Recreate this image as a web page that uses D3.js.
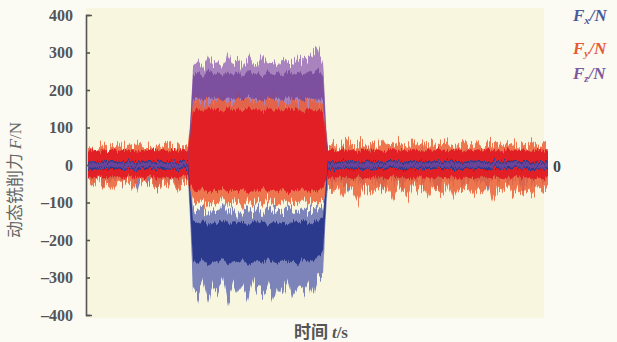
<!DOCTYPE html>
<html><head><meta charset="utf-8">
<script src="https://cdn.jsdelivr.net/npm/d3@7/dist/d3.min.js"></script>
<style>
html,body{margin:0;padding:0;background:#fbfbf4;}
svg{display:block;}
</style></head>
<body>
<svg id="c" width="617" height="342"></svg>
<script>
// sample times (s), 0..46 step 0.5
const time = d3.range(0, 46.01, 0.5);
const yTicks = [-400,-300,-200,-100,0,100,200,300,400];

// Fx envelope (outer spiky) and dense band
const fxHi = [12,18,10,25,14,20,15,30,12,22,16,11,28,14,19,13,24,15,20,12,16,
 -115,-125,-108,-130,-118,-122,-100,-128,-112,-135,-120,-110,-126,-116,-132,-105,-124,-119,-128,-111,-121,-133,-114,-125,-118,-109,-120,
 15,22,12,45,18,14,30,16,50,13,20,25,12,35,17,14,28,19,12,40,16,22,13,30,18,15,24,12,38,17,20,14,27,16,42,13,21,18,26,12,33,15,19,14,16];
const fxLo = [-25,-40,-20,-55,-30,-45,-22,-60,-28,-35,-70,-24,-50,-32,-65,-26,-42,-30,-58,-22,-35,
 -330,-350,-310,-365,-320,-340,-300,-372,-315,-345,-325,-360,-305,-335,-350,-318,-362,-328,-342,-308,-355,-322,-338,-312,-348,-300,-290,
 -30,-55,-25,-48,-70,-28,-40,-60,-22,-52,-35,-75,-26,-45,-32,-65,-24,-50,-38,-58,-27,-44,-68,-30,-36,-55,-25,-62,-40,-28,-50,-34,-72,-26,-46,-30,-57,-38,-24,-64,-32,-48,-28,-40,-30];
const fxBandHi = [10,11,9,12,10,11,9,10,12,11,10,9,11,10,12,9,11,10,11,10,9,
 -150,-158,-148,-162,-152,-155,-145,-160,-150,-157,-149,-163,-151,-154,-147,-159,-152,-156,-148,-161,-150,-155,-146,-158,-152,-150,-140,
 10,11,9,12,10,11,9,10,12,11,10,9,11,10,12,9,11,10,11,10,9,10,11,9,12,10,11,9,10,12,11,10,9,11,10,12,9,11,10,11,10,9,10,11,10];
const fxBandLo = [-10,-12,-9,-11,-10,-13,-9,-11,-10,-12,-11,-9,-12,-10,-11,-13,-10,-9,-11,-12,-10,
 -255,-262,-250,-268,-256,-260,-248,-265,-254,-259,-251,-266,-257,-253,-262,-249,-258,-263,-252,-260,-255,-267,-250,-258,-254,-245,-230,
 -10,-12,-9,-11,-10,-13,-9,-11,-10,-12,-11,-9,-12,-10,-11,-13,-10,-9,-11,-12,-10,-11,-9,-12,-10,-13,-11,-10,-9,-12,-11,-10,-13,-9,-11,-10,-12,-11,-9,-10,-12,-11,-10,-9,-11];

// Fy
const fyHi = [45,52,40,58,44,50,62,42,55,48,60,46,53,41,57,49,63,44,51,47,55,
 170,178,165,182,172,168,180,175,163,185,170,177,166,181,174,169,183,171,176,164,179,172,186,168,175,170,160,
 50,65,45,58,70,48,55,62,44,60,52,68,47,57,63,49,54,66,46,59,51,64,48,56,61,45,58,67,50,55,62,47,60,53,65,49,57,63,46,59,52,64,48,56,50];
const fyLo = [-40,-55,-35,-60,-45,-70,-38,-52,-48,-65,-42,-58,-36,-50,-62,-44,-56,-40,-68,-46,-52,
 -95,-105,-90,-110,-98,-102,-88,-108,-96,-100,-112,-92,-104,-97,-106,-90,-101,-109,-94,-103,-99,-107,-91,-105,-98,-100,-95,
 -60,-75,-50,-90,-55,-70,-100,-58,-65,-80,-52,-72,-62,-95,-56,-68,-85,-54,-74,-60,-88,-57,-66,-78,-53,-92,-61,-70,-58,-82,-64,-76,-55,-98,-63,-69,-57,-86,-60,-73,-65,-80,-58,-70,-55];
const fyBandHi = [38,42,35,40,37,44,36,41,39,43,35,40,38,45,37,42,36,41,39,40,38,
 145,152,140,155,148,150,142,156,146,151,144,154,147,149,141,153,145,150,143,155,147,151,140,152,146,148,140,
 38,42,36,43,39,41,35,44,37,40,42,36,39,45,38,41,37,43,40,36,42,38,44,39,37,41,43,36,40,38,42,39,45,37,41,36,43,38,40,42,37,39,44,38,40];
const fyBandLo = [-30,-34,-28,-36,-32,-33,-29,-35,-31,-34,-28,-37,-32,-30,-35,-33,-29,-36,-31,-34,-32,
 -65,-72,-60,-75,-68,-70,-62,-74,-66,-71,-63,-76,-67,-69,-61,-73,-65,-70,-64,-75,-66,-71,-60,-72,-67,-68,-60,
 -32,-36,-29,-35,-33,-38,-30,-34,-37,-31,-35,-33,-39,-30,-36,-32,-34,-38,-29,-35,-33,-37,-31,-34,-36,-30,-38,-32,-35,-33,-37,-29,-34,-36,-31,-35,-33,-38,-30,-34,-32,-36,-33,-35,-32];

// Fz
const fzHi = [12,14,11,15,13,12,14,11,13,15,12,14,11,13,12,15,13,11,14,12,13,
 265,280,258,290,270,275,262,295,268,285,260,288,272,266,292,270,278,263,286,274,268,290,276,282,300,312,270,
 12,14,11,15,13,12,14,11,13,15,12,14,11,13,12,15,13,11,14,12,13,14,12,15,11,13,14,12,13,15,11,14,12,13,15,12,14,11,13,12,14,13,15,12,13];
const fzLo = [-12,-14,-11,-15,-13,-12,-14,-11,-13,-15,-12,-14,-11,-13,-12,-15,-13,-11,-14,-12,-13,
 130,125,135,128,132,126,134,129,131,127,133,130,128,134,126,132,129,131,127,135,130,128,133,126,131,129,132,
 -12,-14,-11,-15,-13,-12,-14,-11,-13,-15,-12,-14,-11,-13,-12,-15,-13,-11,-14,-12,-13,-14,-12,-15,-11,-13,-14,-12,-13,-15,-11,-14,-12,-13,-15,-12,-14,-11,-13,-12,-14,-13,-15,-12,-13];
const fzBandHi = [6,7,5,8,6,7,5,6,8,7,6,5,7,6,8,5,7,6,7,6,5,
 240,248,235,252,242,246,238,250,241,247,236,253,243,245,237,251,240,248,239,250,242,246,238,252,245,255,240,
 6,7,5,8,6,7,5,6,8,7,6,5,7,6,8,5,7,6,7,6,5,6,7,5,8,6,7,5,6,8,7,6,5,7,6,8,5,7,6,7,6,5,6,7,6];
const fzBandLo = [-6,-7,-5,-8,-6,-7,-5,-6,-8,-7,-6,-5,-7,-6,-8,-5,-7,-6,-7,-6,-5,
 175,180,172,182,176,178,170,181,174,179,173,183,177,175,171,180,176,178,172,182,175,179,170,181,176,174,175,
 -6,-7,-5,-8,-6,-7,-5,-6,-8,-7,-6,-5,-7,-6,-8,-5,-7,-6,-7,-6,-5,-6,-7,-5,-8,-6,-7,-5,-6,-8,-7,-6,-5,-7,-6,-8,-5,-7,-6,-7,-6,-5,-6,-7,-6];

const svg = d3.select("#c");
const x = d3.scaleLinear().domain([0, 46]).range([88, 548]);
const y = d3.scaleLinear().domain([-400, 400]).range([315, 15]);

// vertical-jitter texture filter (visual style only)
const defs = svg.append("defs");
function jitter(id, freq, scale, seed) {
  const f = defs.append("filter").attr("id", id).attr("x", "-5%").attr("y", "-20%")
    .attr("width", "110%").attr("height", "140%").attr("color-interpolation-filters", "sRGB");
  f.append("feTurbulence").attr("type", "fractalNoise").attr("baseFrequency", freq)
    .attr("numOctaves", 2).attr("seed", seed).attr("result", "n");
  f.append("feColorMatrix").attr("in", "n").attr("type", "matrix")
    .attr("values", "0 0 0 0 0.5  0 1 0 0 0  0 0 0 0 0  0 0 0 0 1").attr("result", "m");
  f.append("feDisplacementMap").attr("in", "SourceGraphic").attr("in2", "m")
    .attr("scale", scale).attr("xChannelSelector", "R").attr("yChannelSelector", "G")
    .attr("result", "d");
  f.append("feGaussianBlur").attr("in", "d").attr("stdDeviation", 0.35);
}
jitter("jOuter", "0.7 0.015", 26, 3);
jitter("jInner", "0.7 0.02", 9, 8);

// plot background
svg.append("rect").attr("x", 86).attr("y", 8).attr("width", 458).attr("height", 310).attr("fill", "#f8f6df");

function band(hi, lo, color, op, filt) {
  const area = d3.area().x((d, i) => x(time[i])).y0((d, i) => y(lo[i])).y1((d, i) => y(hi[i]));
  svg.append("path").attr("d", area(time)).attr("fill", color).attr("fill-opacity", op)
    .attr("filter", "url(#" + filt + ")");
}
band(fxHi, fxLo, "#6e78b6", 0.9, "jOuter");
band(fzHi, fzLo, "#a47cbc", 0.95, "jOuter");
band(fyHi, fyLo, "#ec5f36", 0.85, "jOuter");
band(fyBandHi, fyBandLo, "#e31f26", 1, "jInner");
band(fxBandHi, fxBandLo, "#2c3a8e", 1, "jInner");
band(fzBandHi, fzBandLo, "#74479a", 0.85, "jInner");

// y axis
const ax = svg.append("g").attr("transform", "translate(86,0)")
  .call(d3.axisLeft(y).tickValues(yTicks).tickSizeInner(-4).tickSizeOuter(-6).tickPadding(13)
    .tickFormat(d => d < 0 ? "\u2013" + (-d) : String(d)));
ax.selectAll("path,line").attr("stroke", "#555").attr("stroke-width", 1.6);
ax.selectAll("text").attr("font-family", "Liberation Serif, serif").attr("font-size", 16)
  .attr("fill", "#555").attr("font-weight", "bold");

// axis labels
const yl = svg.append("text").attr("transform", "translate(21,180) rotate(-90)")
  .attr("text-anchor", "middle").attr("fill", "#666").attr("font-size", 17);
yl.append("tspan").attr("font-family", "Noto Sans CJK SC").text("动态铣削力 ");
yl.append("tspan").attr("font-family", "Liberation Serif").attr("font-style", "italic").text("F");
yl.append("tspan").attr("font-family", "Liberation Serif").text("/N");

const xl = svg.append("text").attr("x", 321).attr("y", 338)
  .attr("text-anchor", "middle").attr("fill", "#555").attr("font-size", 17).attr("font-weight", "bold");
xl.append("tspan").attr("font-family", "Noto Sans CJK SC").text("时间 ");
xl.append("tspan").attr("font-family", "Liberation Serif").attr("font-style", "italic").text("t");
xl.append("tspan").attr("font-family", "Liberation Serif").text("/s");

// legend
const legend = [{sub: "x", c: "#4a5a9c", y: 21}, {sub: "y", c: "#e65a36", y: 54}, {sub: "z", c: "#7c5a9e", y: 79}];
legend.forEach(l => {
  const t = svg.append("text").attr("x", 573).attr("y", l.y).attr("fill", l.c)
    .attr("font-family", "Liberation Serif").attr("font-size", 17).attr("font-style", "italic").attr("font-weight", "bold");
  t.append("tspan").text("F");
  t.append("tspan").attr("font-size", 11).attr("dy", 3).text(l.sub);
  t.append("tspan").attr("dy", -3).text("/N");
});
svg.append("text").attr("x", 553).attr("y", 172).attr("fill", "#444")
  .attr("font-family", "Liberation Serif").attr("font-size", 16).attr("font-weight", "bold").text("0");
</script>
</body></html>
